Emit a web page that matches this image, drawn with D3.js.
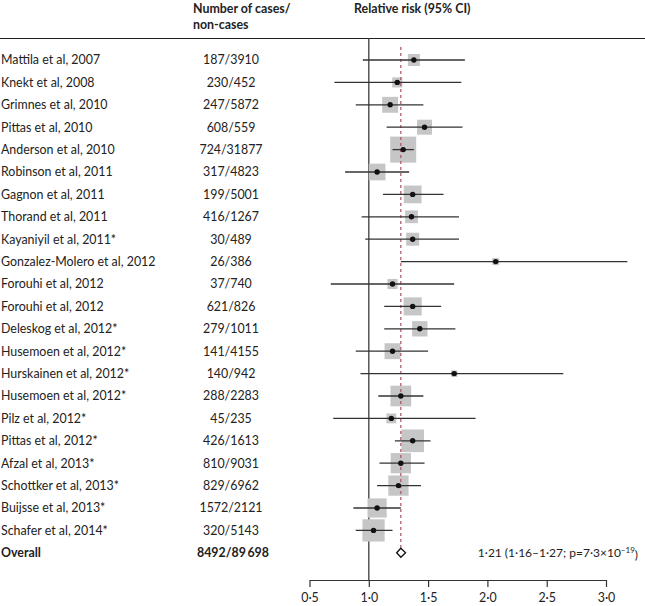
<!DOCTYPE html>
<html>
<head>
<meta charset="utf-8">
<script src="https://cdn.jsdelivr.net/npm/d3@7"></script>
<style>
  html, body { margin: 0; padding: 0; background: #fff; }
  svg { display: block; font-family: Lato, "Noto Sans", sans-serif; }
</style>
</head>
<body>
<svg id="chart" width="645" height="606"></svg>
<script>
const studies = ["Mattila et al, 2007","Knekt et al, 2008","Grimnes et al, 2010","Pittas et al, 2010","Anderson et al, 2010","Robinson et al, 2011","Gagnon et al, 2011","Thorand et al, 2011","Kayaniyil et al, 2011*","Gonzalez-Molero et al, 2012","Forouhi et al, 2012","Forouhi et al, 2012","Deleskog et al, 2012*","Husemoen et al, 2012*","Hurskainen et al, 2012*","Husemoen et al, 2012*","Pilz et al, 2012*","Pittas et al, 2012*","Afzal et al, 2013*","Schottker et al, 2013*","Buijsse et al, 2013*","Schafer et al, 2014*"];
const cases = ["187/3910","230/452","247/5872","608/559","724/31877","317/4823","199/5001","416/1267","30/489","26/386","37/740","621/826","279/1011","141/4155","140/942","288/2283","45/235","426/1613","810/9031","829/6962","1572/2121","320/5143"];
const rr = [1.38,1.24,1.18,1.47,1.29,1.07,1.37,1.36,1.37,2.07,1.20,1.37,1.43,1.20,1.72,1.27,1.19,1.37,1.27,1.25,1.07,1.04];
const lo = [0.95,0.71,0.89,1.15,1.20,0.80,1.12,0.94,0.97,1.27,0.68,1.13,1.13,0.89,0.93,1.08,0.70,1.22,1.09,1.07,0.87,0.89];
const hi = [1.81,1.78,1.46,1.79,1.38,1.34,1.63,1.76,1.76,3.18,1.72,1.61,1.73,1.50,2.64,1.46,1.90,1.52,1.47,1.44,1.27,1.20];
const weight = [2.4,1.7,4.2,3.7,11.2,4.6,5.2,2.7,2.8,0.8,1.7,5.4,3.9,4.2,0.7,7.1,1.6,8.5,6.8,6.8,6.1,8.2];
const overallLabel = "Overall";
const overallCases = "8492/89\u2009698";
const overallEst = 1.27, overallLo = 1.235, overallHi = 1.31;
const overallText = "1·21 (1·16–1·27; p=7·3×10";
const overallExp = "−19";
const tickValues = [0.5, 1.0, 1.5, 2.0, 2.5, 3.0];
const headerCases = ["Number of cases/", "non-cases"];
const headerRR = "Relative risk (95% CI)";

const svg = d3.select("#chart");
const fs = 12.4;
const x = d3.scaleLinear().domain([0.5, 3.0]).range([309.5, 606]);
const y = d3.scaleLinear().domain([0, 22]).range([60, 552.8]);
const size = d3.scaleSqrt().domain([0, d3.max(weight)]).range([0, 26]);
const axisY = 580, ruleY = 38.5;

// header
svg.append("g").selectAll("text").data(headerCases).join("text")
  .attr("x", 193).attr("y", (d, i) => 12.5 + i * 16.5)
  .attr("font-size", fs).attr("font-weight", "bold").attr("fill", "#222")
  .text(d => d);
svg.append("text").attr("x", 354).attr("y", 12.5)
  .attr("font-size", fs).attr("font-weight", "bold").attr("fill", "#222").text(headerRR);
svg.append("line").attr("x1", 0).attr("x2", 645).attr("y1", ruleY).attr("y2", ruleY)
  .attr("stroke", "#222").attr("stroke-width", 1.2);

// reference line at 1
svg.append("line").attr("x1", x(1)).attr("x2", x(1)).attr("y1", ruleY).attr("y2", axisY)
  .attr("stroke", "#555").attr("stroke-width", 1.5);

// boxes
const rows = studies.map((s, i) => ({s, c: cases[i], rr: rr[i], lo: lo[i], hi: hi[i], w: weight[i], i}));
svg.append("g").selectAll("rect").data(rows).join("rect")
  .attr("x", d => x(d.rr) - size(d.w) / 2)
  .attr("y", d => y(d.i) - size(d.w) / 2)
  .attr("width", d => size(d.w)).attr("height", d => size(d.w))
  .attr("fill", "#c6c6c6");

// dashed overall line
svg.append("line").attr("x1", x(overallEst)).attr("x2", x(overallEst))
  .attr("y1", 47).attr("y2", y(22) - 5)
  .attr("stroke", "#a9535d").attr("stroke-width", 1.2).attr("stroke-dasharray", "3,3");

// CI lines
svg.append("g").selectAll("line").data(rows).join("line")
  .attr("x1", d => x(d.lo)).attr("x2", d => x(d.hi))
  .attr("y1", d => y(d.i)).attr("y2", d => y(d.i))
  .attr("stroke", "#333").attr("stroke-width", 1.3);

// points
svg.append("g").selectAll("circle").data(rows).join("circle")
  .attr("cx", d => x(d.rr)).attr("cy", d => y(d.i)).attr("r", 2.7)
  .attr("fill", "#111");

// labels
svg.append("g").selectAll("text").data(rows).join("text")
  .attr("x", 1).attr("y", d => y(d.i)).attr("dy", "0.35em")
  .attr("font-size", fs).attr("fill", "#222").text(d => d.s);
svg.append("g").selectAll("text").data(rows).join("text")
  .attr("x", 231).attr("y", d => y(d.i)).attr("dy", "0.35em").attr("text-anchor", "middle")
  .attr("font-size", fs).attr("fill", "#222").text(d => d.c);

// overall
svg.append("text").attr("x", 1).attr("y", y(22)).attr("dy", "0.35em")
  .attr("font-size", fs).attr("font-weight", "bold").attr("fill", "#222").text(overallLabel);
svg.append("text").attr("x", 233).attr("y", y(22)).attr("dy", "0.35em").attr("text-anchor", "middle")
  .attr("font-size", fs).attr("font-weight", "bold").attr("fill", "#222").text(overallCases);
const dh = 4.5;
svg.append("path")
  .attr("d", `M${x(overallLo)},${y(22)} L${x(overallEst)},${y(22) - dh} L${x(overallHi)},${y(22)} L${x(overallEst)},${y(22) + dh} Z`)
  .attr("fill", "#fff").attr("stroke", "#111").attr("stroke-width", 1.3);
const ot = svg.append("text").attr("x", 638).attr("y", y(22)).attr("dy", "0.35em")
  .attr("text-anchor", "end").attr("font-size", 12).attr("fill", "#222");
ot.append("tspan").text(overallText);
ot.append("tspan").attr("font-size", 8).attr("dy", "-0.55em").text(overallExp);
ot.append("tspan").attr("dy", "0.5em").text(")");

// axis
const axis = d3.axisBottom(x).tickValues(tickValues).tickSize(7).tickSizeOuter(0).tickPadding(6)
  .tickFormat(d => d3.format(".1f")(d).replace(".", "·"));
const ag = svg.append("g").attr("transform", `translate(0,${axisY})`).call(axis);
ag.select(".domain").attr("stroke", "#333").attr("stroke-width", 1.2);
ag.selectAll(".tick line").attr("stroke", "#333").attr("stroke-width", 1.2);
ag.selectAll(".tick text").attr("font-size", fs).attr("fill", "#222").attr("font-family", "Lato, 'Noto Sans', sans-serif");
</script>
</body>
</html>
